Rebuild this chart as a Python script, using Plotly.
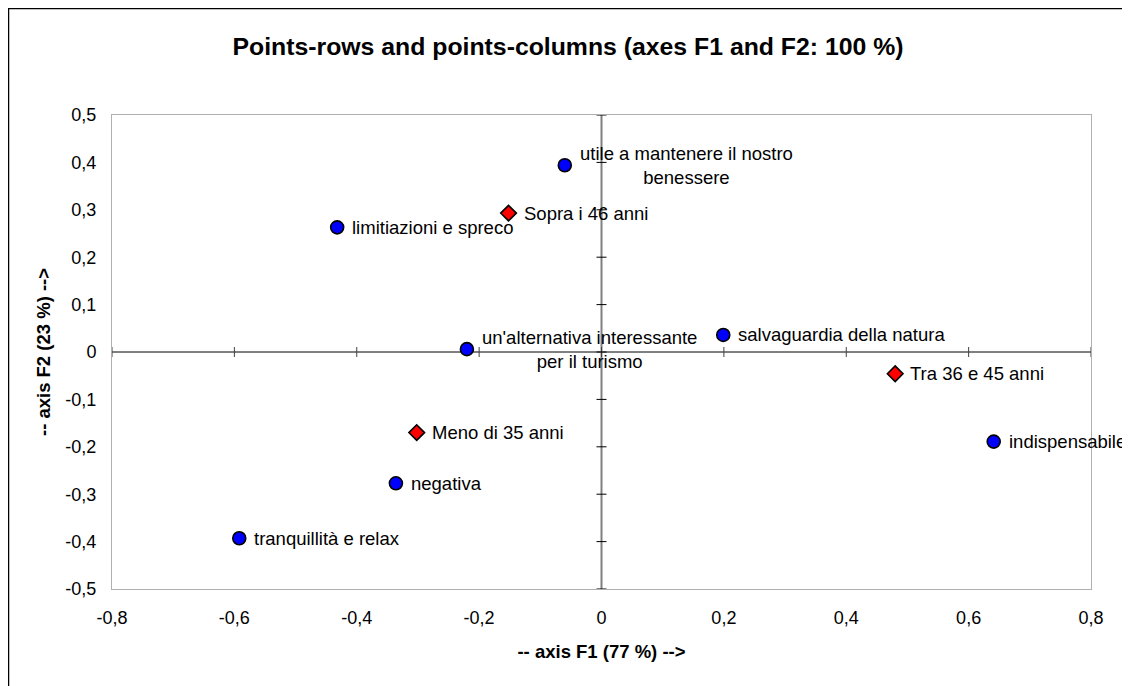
import plotly.graph_objects as go

# points-columns (answers)
col_labels = ["utile a mantenere il nostro<br>benessere", "limitiazioni e spreco",
              "un'alternativa interessante<br>per il turismo", "salvaguardia della natura",
              "indispensabile", "negativa", "tranquillità e relax"]
col_f1 = [-0.060, -0.432, -0.220, 0.199, 0.641, -0.336, -0.592]
col_f2 = [0.394, 0.263, 0.006, 0.036, -0.189, -0.277, -0.393]

# points-rows (age groups)
row_labels = ["Sopra i 46 anni", "Tra 36 e 45 anni", "Meno di 35 anni"]
row_f1 = [-0.152, 0.480, -0.302]
row_f2 = [0.293, -0.046, -0.170]

x_ticks = [-0.8, -0.6, -0.4, -0.2, 0, 0.2, 0.4, 0.6, 0.8]
x_tick_text = ["-0,8", "-0,6", "-0,4", "-0,2", "0", "0,2", "0,4", "0,6", "0,8"]
y_ticks = [-0.5, -0.4, -0.3, -0.2, -0.1, 0, 0.1, 0.2, 0.3, 0.4, 0.5]
y_tick_text = ["-0,5", "-0,4", "-0,3", "-0,2", "-0,1", "0", "0,1", "0,2", "0,3", "0,4", "0,5"]

font = "Liberation Sans, Arial, sans-serif"

fig = go.Figure()
fig.add_trace(go.Scatter(
    x=col_f1, y=col_f2, mode="markers", hoverinfo="skip",
    marker=dict(symbol="circle", size=13, color="#0000FF", line=dict(color="black", width=1.6)),
))
fig.add_trace(go.Scatter(
    x=row_f1, y=row_f2, mode="markers", hoverinfo="skip",
    marker=dict(symbol="diamond", size=12, color="#FF0000", line=dict(color="black", width=1.6)),
))

for lab, xv, yv in list(zip(col_labels, col_f1, col_f2)) + list(zip(row_labels, row_f1, row_f2)):
    fig.add_annotation(x=xv, y=yv, text=lab, showarrow=False, xanchor="left", yanchor="middle",
                       xshift=13, align="center", font=dict(family=font, size=18.5, color="black"))

shapes = []
# zero axes
shapes.append(dict(type="line", xref="x", yref="y", x0=-0.8, x1=0.8, y0=0, y1=0,
                   line=dict(color="black", width=1), layer="below"))
shapes.append(dict(type="line", xref="x", yref="y", x0=0, x1=0, y0=-0.5, y1=0.5,
                   line=dict(color="#808080", width=2), layer="below"))
# tick marks crossing the zero axes
for t in x_ticks:
    shapes.append(dict(type="line", xref="x", yref="y", ysizemode="pixel", yanchor=0,
                       x0=t, x1=t, y0=-5, y1=5, line=dict(color="#404040", width=1), layer="below"))
for t in y_ticks:
    shapes.append(dict(type="line", xref="x", yref="y", xsizemode="pixel", xanchor=0,
                       x0=-5, x1=5, y0=t, y1=t, line=dict(color="black", width=1), layer="below"))
# outer chart frame
shapes.append(dict(type="line", xref="paper", yref="paper", xsizemode="pixel", ysizemode="pixel",
                   xanchor=0, yanchor=1, x0=-103.5, x1=-103.5, y0=106.5, y1=-700,
                   line=dict(color="black", width=1.5)))
shapes.append(dict(type="line", xref="paper", yref="paper", xsizemode="pixel", ysizemode="pixel",
                   xanchor=0, yanchor=1, x0=-104, x1=1017, y0=106.5, y1=106.5,
                   line=dict(color="black", width=1.5)))
shapes.append(dict(type="line", xref="paper", yref="paper", xsizemode="pixel", ysizemode="pixel",
                   xanchor=0, yanchor=1, x0=1016.5, x1=1016.5, y0=106.5, y1=-700,
                   line=dict(color="#A0A0A0", width=1)))

fig.update_layout(
    width=1122, height=678,
    margin=dict(l=104, r=39, t=107, b=97),
    paper_bgcolor="white", plot_bgcolor="white",
    showlegend=False,
    shapes=shapes,
    font=dict(family=font, size=18, color="black"),
    title=dict(text="<b>Points-rows and points-columns (axes F1 and F2: 100 %)</b>",
               x=560 / 1122, xanchor="center", y=1 - 38 / 678, yanchor="middle",
               font=dict(family=font, size=24.8, color="black")),
)
fig.update_xaxes(
    range=[-0.8, 0.8], tickvals=x_ticks, ticktext=x_tick_text, showgrid=False, zeroline=False,
    showline=True, linecolor="#B0B0B0", linewidth=1, mirror=True,
    ticks="outside", ticklen=0, ticklabelstandoff=12,
    tickfont=dict(family=font, size=18),
    title=dict(text="<b>-- axis F1 (77 %) --></b>", standoff=18, font=dict(family=font, size=18.5)),
)
fig.update_yaxes(
    range=[-0.5, 0.5], tickvals=y_ticks, ticktext=y_tick_text, showgrid=False, zeroline=False,
    showline=True, linecolor="#B0B0B0", linewidth=1, mirror=True,
    ticks="outside", ticklen=0, ticklabelstandoff=11,
    tickfont=dict(family=font, size=18),
    title=dict(text="<b>-- axis F2 (23 %) --></b>", standoff=9, font=dict(family=font, size=18.5)),
)

fig.write_html("out.html")
